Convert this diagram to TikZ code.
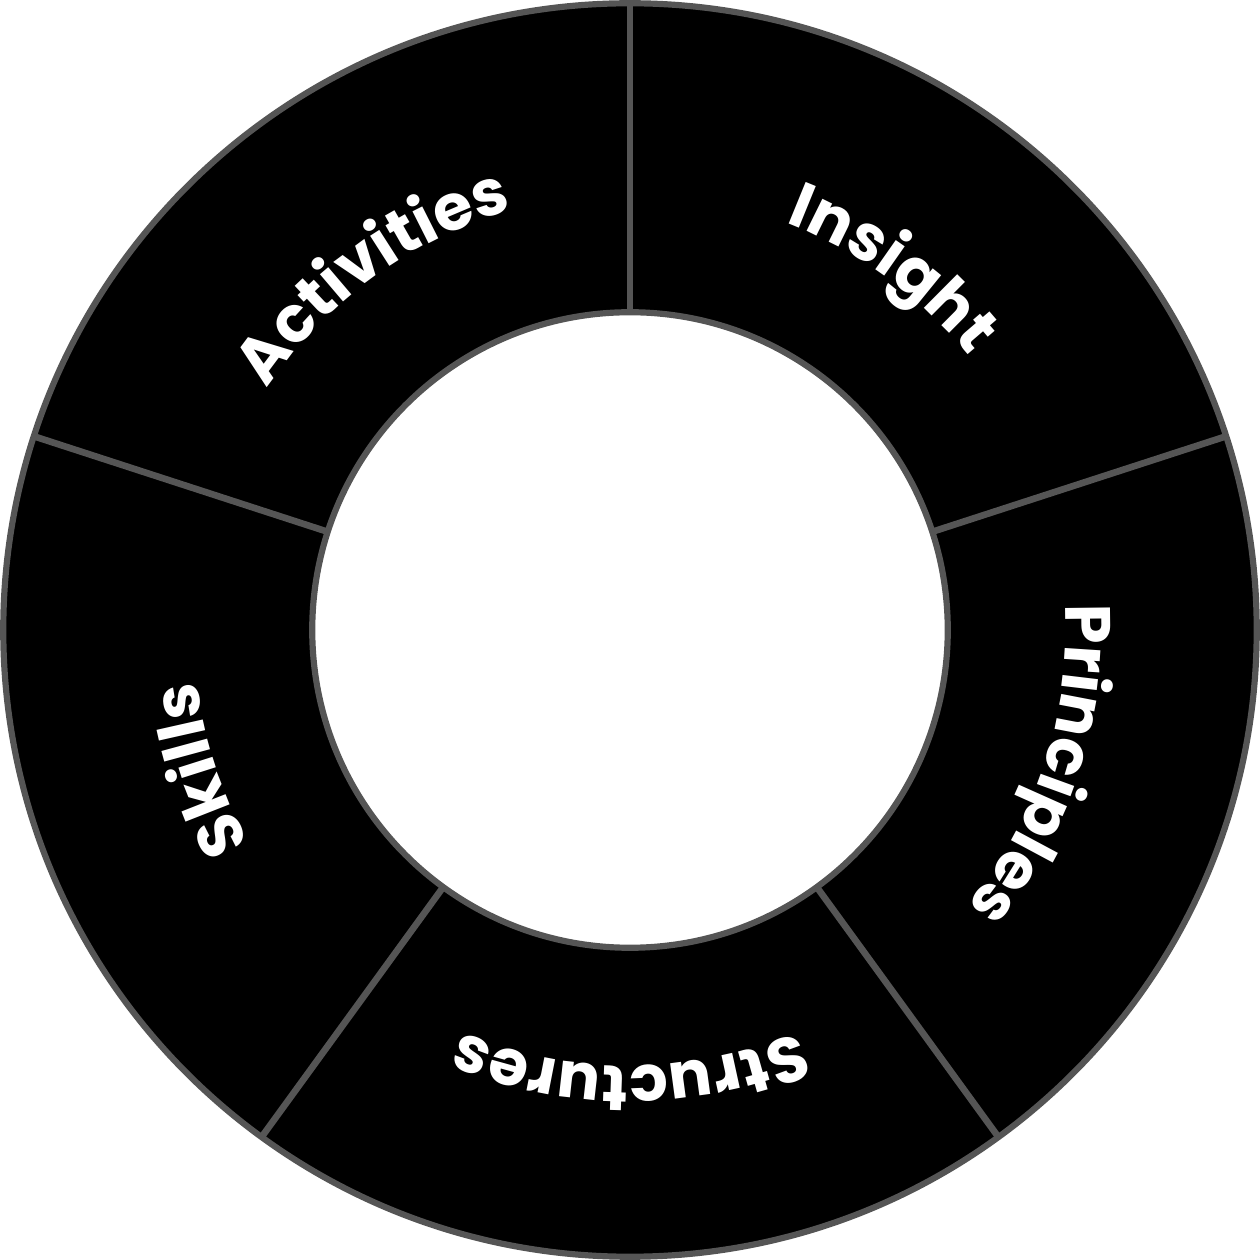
\documentclass[tikz,border=0pt]{standalone}
\usepackage{fontspec}
\newfontfamily\ringfont[LetterSpace=4]{Poppins}
\usetikzlibrary{decorations.text}
\definecolor{ringgray}{HTML}{555555}
\tikzset{every ring/.style={fill=black,draw=ringgray,line width=1.4pt}}
\tikzset{divider/.style={draw=ringgray,line width=1.5pt}}
\tikzset{ringlabel/.style={decorate,decoration={text along path,text align=center,text color=white,
  text={|\ringfont\bfseries\fontsize{14.5}{17}\selectfont|#1}}}}

\begin{document}
\begin{tikzpicture}
          \useasboundingbox (-5.016,-5.016) rectangle (5.016,5.016);
          \path[every ring,even odd rule] (0,0) circle[radius=4.99] (0,0) circle[radius=2.53];
          \foreach \a in {90,18,-54,-126,-198}
            \draw[divider] (\a:2.53) -- (\a:4.99);
          % labels run clockwise, tops outward
          \path[ringlabel=Insight] (94:3.47) arc[start angle=94,end angle=14,radius=3.47];
          \path[ringlabel=Principles] (22:3.47) arc[start angle=22,end angle=-58,radius=3.47];
          \path[ringlabel=Structures] (-50:3.47) arc[start angle=-50,end angle=-130,radius=3.47];
          \path[ringlabel=Skills] (-122:3.47) arc[start angle=-122,end angle=-202,radius=3.47];
          \path[ringlabel=Activities] (166:3.47) arc[start angle=166,end angle=86,radius=3.47];
        \end{tikzpicture}
\end{document}
